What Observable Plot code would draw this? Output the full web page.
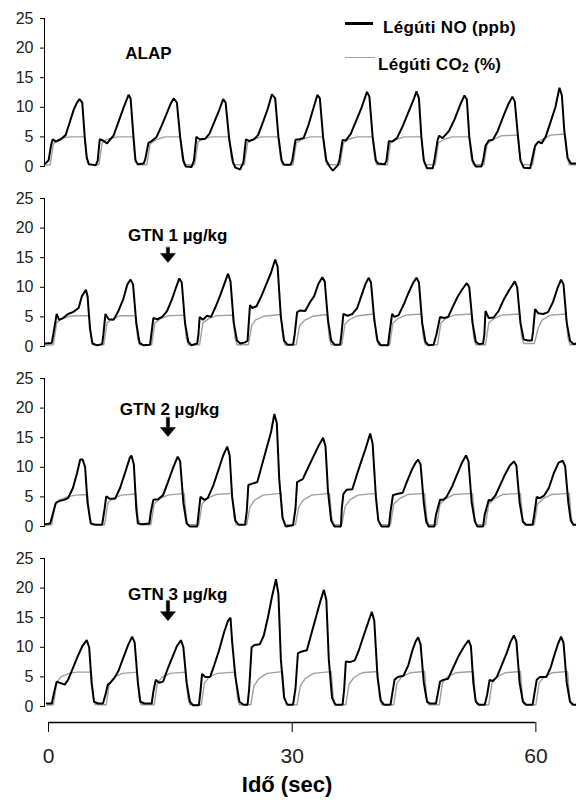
<!DOCTYPE html>
<html><head><meta charset="utf-8">
<script src="https://cdn.jsdelivr.net/npm/d3@7"></script>
<script src="https://cdn.jsdelivr.net/npm/@observablehq/plot@0.6"></script>
<style>
body{margin:0;background:#fff;}
#wrap{position:relative;width:576px;height:802px;overflow:hidden;font-family:"Liberation Sans",Arial,sans-serif;color:#000;}
.pl{position:absolute;left:0;}
.lg{position:absolute;font-weight:bold;font-size:17px;line-height:17px;white-space:nowrap;letter-spacing:0.3px;}
.lg sub{font-size:12px;vertical-align:-2px;}
.sw{position:absolute;}
#xt{position:absolute;left:187px;width:200px;text-align:center;font-weight:bold;font-size:22px;line-height:22px;top:774px;}
</style></head><body><div id="wrap"></div>
<script>
const xTicks = [0, 30, 60];
const yTicks = [0, 5, 10, 15, 20, 25];
const seriesNames = ["Légúti NO (ppb)", "Légúti CO₂ (%)"];
const xTitle = "Idő (sec)";

// Légúti NO (ppb), [time s, value]
const no1 = [
[-0.4,0.5],[0.0,1.0],[0.3,3.5],[0.5,4.6],[0.9,4.2],[1.5,4.6],[2.1,5.3],[2.5,7.0],[3.1,9.6],[3.5,10.8],[3.8,11.4],[4.15,10.8],[4.45,5.0],[4.7,1.5],[4.95,0.4],[5.8,0.2],
[6.05,1.0],[6.3,4.6],[6.7,4.4],[7.2,3.9],[7.6,4.6],[8.0,5.2],[8.6,7.5],[9.2,9.8],[9.85,12.1],[10.1,11.5],[10.4,6.0],[10.7,1.0],[11.0,0.4],[11.7,0.5],
[11.9,1.2],[12.3,4.0],[12.7,4.3],[13.3,5.0],[13.8,6.5],[14.5,8.8],[15.0,10.5],[15.4,11.5],[15.8,10.8],[16.2,5.0],[16.6,1.0],[16.9,0.0],[17.6,-0.1],
[17.9,1.0],[18.2,5.0],[18.6,4.6],[19.3,4.7],[19.8,5.5],[20.4,7.5],[21.0,9.5],[21.5,11.4],[21.8,10.8],[22.25,4.5],[22.7,0.8],[23.0,-0.2],[23.6,-0.5],
[24.0,0.8],[24.3,4.6],[24.7,4.3],[25.3,4.6],[25.8,5.3],[26.4,7.5],[27.0,9.8],[27.5,12.2],[27.9,11.5],[28.3,5.0],[28.7,1.0],[29.0,0.3],[29.8,0.3],
[30.0,1.0],[30.4,4.5],[30.9,4.6],[31.4,4.8],[32.0,7.0],[32.6,9.8],[33.1,12.1],[33.4,11.5],[33.8,5.0],[34.2,1.0],[34.6,0.0],[35.0,-0.7],[35.6,0.2],
[35.8,1.0],[36.2,4.5],[36.6,4.4],[37.2,5.5],[37.8,7.5],[38.5,9.8],[39.2,12.6],[39.5,11.8],[39.9,5.0],[40.3,1.0],[40.6,0.5],[41.4,0.4],
[41.6,1.0],[41.9,4.3],[42.3,4.2],[42.9,4.8],[43.6,6.8],[44.4,9.5],[45.0,11.5],[45.3,12.7],[45.6,11.5],[45.9,5.0],[46.2,1.0],[46.6,-0.3],[47.3,-0.3],
[47.5,1.0],[47.9,4.5],[48.1,5.2],[48.5,4.8],[49.3,6.0],[50.0,8.0],[50.7,10.5],[51.2,12.0],[51.5,11.3],[51.8,5.0],[52.2,1.0],[52.6,0.0],[53.3,0.0],
[53.5,1.0],[53.8,3.5],[54.2,4.4],[54.7,4.5],[55.3,6.0],[56.0,8.5],[56.6,10.5],[57.1,11.8],[57.4,11.0],[57.8,5.0],[58.1,1.0],[58.5,-0.2],[59.3,-0.3],
[59.5,1.0],[59.9,3.5],[60.3,4.2],[60.7,3.9],[61.2,5.0],[61.8,7.5],[62.4,10.0],[62.9,13.3],[63.2,12.0],[63.5,6.0],[63.9,1.5],[64.3,0.5],[65.0,0.5]
];
const no2 = [
[-0.4,0.5],[0.4,0.6],[0.7,3.0],[1.0,5.5],[1.3,4.5],[1.8,4.8],[2.4,5.5],[3.0,5.8],[3.7,6.5],[4.1,8.5],[4.6,9.6],[4.8,8.5],[5.1,3.0],[5.4,0.5],[6.0,0.2],[6.6,0.4],
[6.75,2.0],[7.0,5.5],[7.4,4.6],[8.0,4.5],[8.6,6.0],[9.2,8.0],[9.7,10.5],[10.1,11.3],[10.4,10.5],[10.8,4.0],[11.2,0.6],[11.7,0.2],[12.5,0.3],
[12.65,2.0],[12.9,4.8],[13.4,4.6],[14.0,5.0],[14.6,6.0],[15.2,8.0],[15.7,10.0],[16.1,11.5],[16.4,10.8],[16.8,4.0],[17.2,0.8],[17.6,0.2],[18.3,0.5],
[18.45,2.0],[18.6,5.0],[19.0,4.5],[19.5,5.2],[20.0,5.0],[20.5,6.5],[21.1,8.5],[21.7,10.8],[22.1,12.3],[22.4,11.0],[22.8,4.0],[23.2,1.0],[23.6,0.5],[24.2,0.7],
[24.5,1.0],[24.8,7.0],[25.1,6.5],[25.6,6.8],[26.2,8.5],[26.8,10.5],[27.4,12.5],[27.9,14.7],[28.2,13.5],[28.6,5.0],[29.0,1.0],[29.4,0.3],[30.1,0.3],
[30.3,2.0],[30.6,5.8],[31.0,6.1],[31.6,6.0],[32.2,7.5],[32.7,8.5],[33.2,10.5],[33.7,11.7],[34.0,11.0],[34.4,4.5],[34.8,1.0],[35.2,0.3],[35.9,0.3],
[36.05,2.0],[36.3,5.5],[36.8,5.2],[37.4,5.5],[38.0,6.5],[38.5,8.5],[39.0,10.5],[39.4,11.6],[39.7,10.8],[40.1,4.5],[40.5,1.0],[40.9,0.2],[41.8,0.2],
[41.95,2.0],[42.3,5.5],[42.6,5.0],[43.1,5.3],[43.7,7.0],[44.3,9.0],[44.9,10.8],[45.3,11.6],[45.6,10.8],[46.0,4.0],[46.4,0.8],[46.8,0.2],[47.4,0.3],
[47.75,2.0],[48.2,5.0],[48.7,4.8],[49.2,5.0],[49.8,6.8],[50.4,8.5],[51.0,9.8],[51.5,10.7],[51.8,10.0],[52.2,4.0],[52.6,0.8],[53.0,0.4],[53.5,0.5],
[53.65,2.0],[53.8,6.0],[54.2,4.8],[54.8,4.9],[55.4,6.0],[56.0,7.8],[56.7,9.5],[57.4,11.0],[57.7,10.0],[58.1,4.0],[58.5,1.2],[59.0,1.0],[59.5,1.0],
[59.65,2.5],[59.9,6.3],[60.3,5.6],[60.9,5.5],[61.5,5.8],[62.1,7.5],[62.7,10.0],[63.1,11.3],[63.4,10.5],[63.8,4.0],[64.2,1.0],[64.6,0.4],[65.0,0.5]
];
const no3 = [
[-0.4,0.4],[0.2,0.5],[0.5,2.0],[0.9,4.0],[1.3,4.3],[1.9,4.5],[2.4,4.8],[3.0,6.5],[3.5,9.0],[3.9,11.3],[4.2,11.3],[4.5,10.0],[4.8,4.0],[5.2,0.5],[5.8,0.3],[6.6,0.3],
[6.9,3.0],[7.1,5.1],[7.5,4.7],[8.2,4.7],[8.8,6.5],[9.4,9.0],[10.0,11.6],[10.2,12.0],[10.5,10.5],[10.8,3.0],[11.0,0.5],[11.5,0.4],[12.4,0.5],
[12.6,2.5],[12.9,4.5],[13.5,4.6],[14.1,5.3],[14.7,7.5],[15.3,9.8],[15.9,11.8],[16.2,11.0],[16.6,4.0],[17.0,0.5],[17.4,0.0],[18.3,0.0],
[18.5,2.5],[18.7,5.0],[19.2,4.5],[19.6,4.8],[20.3,7.0],[20.9,9.5],[21.5,12.0],[22.0,13.5],[22.3,12.0],[22.6,5.0],[23.0,1.0],[23.4,0.3],[24.2,0.3],
[24.4,2.5],[24.6,7.0],[25.0,7.2],[25.7,7.5],[26.3,10.5],[26.9,13.5],[27.4,16.0],[27.8,19.0],[28.1,17.5],[28.4,8.0],[28.8,1.5],[29.2,0.0],[30.1,0.2],
[30.4,3.0],[30.6,7.5],[31.0,7.8],[31.3,8.0],[31.8,9.5],[32.5,11.5],[33.2,13.5],[33.8,15.0],[34.1,13.5],[34.4,6.0],[34.8,1.0],[35.2,0.0],[36.0,0.0],
[36.1,3.0],[36.3,5.5],[36.7,6.2],[37.4,6.3],[37.9,8.5],[38.5,11.0],[39.0,13.0],[39.6,15.7],[39.9,14.0],[40.3,5.0],[40.6,1.0],[41.0,0.0],[41.9,0.0],
[42.1,2.5],[42.4,5.3],[42.9,5.5],[43.6,5.7],[44.1,7.5],[44.7,9.5],[45.2,10.8],[45.5,11.3],[45.8,10.5],[46.2,4.0],[46.5,0.8],[46.8,0.0],[47.5,0.0],
[47.7,2.0],[48.2,4.5],[48.6,4.5],[49.0,5.0],[49.7,6.8],[50.3,8.8],[50.9,10.8],[51.4,12.0],[51.7,11.0],[52.1,4.0],[52.5,0.8],[52.8,0.0],[53.5,0.0],
[53.7,2.0],[54.2,4.5],[54.5,4.4],[55.0,5.2],[55.6,7.0],[56.2,8.8],[56.8,10.3],[57.3,11.0],[57.6,10.3],[58.0,4.0],[58.4,0.8],[58.8,0.3],[59.6,0.3],
[59.8,2.0],[60.1,5.0],[60.5,4.8],[61.0,5.2],[61.6,6.5],[62.2,9.0],[62.8,10.8],[63.3,11.1],[63.6,10.2],[64.0,4.0],[64.3,1.0],[64.6,0.3],[65.0,0.3]
];
const no4 = [
[-0.2,0.5],[0.4,0.5],[0.7,2.5],[1.0,4.2],[1.4,4.0],[2.0,3.7],[2.4,4.5],[3.0,6.5],[3.6,8.5],[4.2,10.3],[4.7,11.2],[5.0,10.0],[5.3,4.0],[5.6,0.8],[6.1,0.5],[6.7,0.5],
[7.0,2.0],[7.3,3.7],[7.6,4.0],[8.1,4.8],[8.6,6.0],[9.2,8.2],[9.8,10.4],[10.3,11.8],[10.6,10.8],[11.0,4.0],[11.3,0.8],[11.8,0.5],[12.7,0.5],
[12.9,2.5],[13.2,4.5],[13.6,4.0],[14.1,4.2],[14.7,6.5],[15.3,8.5],[15.8,10.2],[16.3,11.2],[16.6,10.0],[17.0,4.0],[17.4,0.8],[17.8,0.2],[18.5,0.2],
[18.7,2.5],[18.9,5.5],[19.3,5.0],[19.9,5.0],[20.4,7.0],[21.0,9.5],[21.6,12.5],[22.1,14.5],[22.4,15.0],[22.6,11.0],[23.0,5.0],[23.5,0.8],[24.0,0.3],[24.5,0.3],
[24.7,3.0],[25.0,10.0],[25.4,10.4],[26.0,10.5],[26.5,12.0],[27.0,15.0],[27.5,18.5],[28.0,21.5],[28.3,19.0],[28.6,8.0],[29.0,1.5],[29.4,0.3],[30.1,0.3],
[30.4,3.0],[30.7,9.0],[31.2,9.3],[31.8,9.5],[32.3,12.0],[32.9,15.0],[33.4,17.5],[33.9,19.7],[34.2,18.0],[34.5,8.0],[34.9,1.5],[35.3,0.3],[36.2,0.3],
[36.4,3.0],[36.6,7.6],[37.1,7.5],[37.7,7.8],[38.2,9.5],[38.8,12.0],[39.3,14.0],[39.8,16.0],[40.1,14.5],[40.5,5.0],[40.9,1.0],[41.3,0.3],[42.1,0.3],
[42.3,2.0],[42.6,4.5],[43.0,5.0],[43.7,5.2],[44.3,7.0],[44.8,9.5],[45.2,11.0],[45.5,11.7],[45.8,10.5],[46.2,4.0],[46.6,0.8],[47.0,0.5],[47.7,0.5],
[47.9,2.0],[48.2,4.2],[48.6,4.5],[49.2,4.7],[49.8,6.5],[50.4,8.3],[51.1,10.0],[51.7,11.2],[52.0,10.2],[52.3,4.0],[52.6,0.8],[53.0,0.3],[53.7,0.3],
[54.0,2.0],[54.3,4.5],[54.7,4.3],[55.2,5.0],[55.8,7.0],[56.4,9.0],[56.9,11.0],[57.3,12.0],[57.6,11.0],[58.0,4.0],[58.4,0.8],[58.8,0.3],[59.6,0.3],
[59.8,2.0],[60.1,4.5],[60.5,5.0],[61.3,5.0],[61.8,6.5],[62.3,8.8],[62.7,10.5],[63.1,11.8],[63.4,10.8],[63.8,4.0],[64.2,0.8],[64.6,0.3],[65.0,0.3]
];

// Légúti CO2 (%), [time s, value]
const co1 = [
[-0.4,0.2],[0.2,0.3],[0.6,3.8],[1.0,4.4],[2.0,4.9],[2.8,5.0],[4.45,5.0],[4.7,1.5],[4.95,0.3],
[6.2,0.3],[6.6,4.0],[7.2,4.6],[8.5,5.0],[10.4,5.0],[10.65,1.5],[10.9,0.3],
[12.1,0.3],[12.5,3.8],[13.2,4.5],[14.3,5.0],[16.2,5.0],[16.45,1.5],[16.7,0.3],
[18.0,0.3],[18.4,4.2],[19.0,4.6],[20.0,5.0],[22.25,5.0],[22.5,1.5],[22.75,0.3],
[24.1,0.3],[24.5,4.0],[25.2,4.6],[26.2,5.0],[28.3,5.0],[28.55,1.5],[28.8,0.3],
[30.1,0.3],[30.5,4.0],[31.2,4.6],[32.2,5.0],[33.8,5.0],[34.05,1.5],[34.3,0.3],
[35.9,0.3],[36.3,4.0],[37.0,4.6],[38.0,5.0],[39.9,5.0],[40.15,1.5],[40.4,0.3],
[41.7,0.3],[42.1,4.0],[42.8,4.6],[43.8,5.0],[45.9,5.0],[46.15,1.5],[46.4,0.3],
[47.6,0.3],[48.0,4.0],[48.7,4.6],[49.7,5.0],[51.8,5.0],[52.05,1.5],[52.3,0.3],
[53.6,0.3],[54.0,3.8],[54.8,4.6],[55.8,5.2],[57.8,5.3],[58.05,1.5],[58.3,0.3],
[59.6,0.3],[60.0,3.8],[60.8,4.6],[61.8,5.3],[63.6,5.5],[63.85,1.5],[64.1,0.3],[65.0,0.3]
];
const co2 = [
[-0.4,0.2],[0.6,0.3],[1.0,4.0],[1.5,4.6],[2.5,5.1],[3.5,5.2],[5.0,5.2],[5.25,1.5],[5.5,0.3],
[6.8,0.3],[7.2,4.0],[7.8,4.6],[8.8,5.2],[10.7,5.2],[10.95,1.5],[11.2,0.3],
[12.7,0.3],[13.1,4.0],[13.8,4.7],[14.8,5.2],[16.7,5.3],[16.95,1.5],[17.2,0.3],
[18.6,0.3],[19.0,4.0],[19.7,4.7],[20.7,5.2],[22.7,5.3],[22.95,1.5],[23.2,0.3],
[24.6,0.3],[25.0,3.5],[25.5,4.5],[26.5,5.1],[28.6,5.4],[28.85,1.5],[29.1,0.3],
[30.5,0.3],[30.9,3.5],[31.5,4.4],[32.5,5.1],[34.3,5.4],[34.55,1.5],[34.8,0.3],
[36.1,0.3],[36.5,3.8],[37.1,4.6],[38.1,5.2],[40.1,5.5],[40.35,1.5],[40.6,0.3],
[42.0,0.3],[42.4,4.0],[43.0,4.7],[44.0,5.3],[45.9,5.5],[46.15,1.5],[46.4,0.3],
[47.9,0.3],[48.3,4.0],[48.9,4.7],[49.9,5.3],[52.1,5.5],[52.35,1.5],[52.6,0.3],
[53.8,0.3],[54.2,4.0],[54.8,4.7],[55.8,5.3],[58.0,5.5],[58.25,1.5],[58.5,0.5],
[59.8,0.5],[60.3,3.2],[60.8,4.5],[61.8,5.3],[63.7,5.5],[63.95,1.5],[64.2,0.3],[65.0,0.3]
];
const co3 = [
[-0.4,0.2],[0.4,0.3],[0.8,3.8],[1.3,4.4],[2.3,5.0],[3.3,5.3],[4.8,5.4],[5.05,1.5],[5.3,0.3],
[6.9,0.3],[7.3,4.0],[8.0,4.8],[9.0,5.3],[10.75,5.5],[11.0,1.5],[11.25,0.3],
[12.6,0.3],[13.0,3.8],[13.7,4.7],[14.7,5.3],[16.7,5.6],[16.95,1.5],[17.2,0.3],
[18.5,0.3],[18.9,3.8],[19.6,4.8],[20.6,5.4],[22.6,5.6],[22.85,1.5],[23.1,0.3],
[24.4,0.3],[24.8,3.3],[25.4,4.5],[26.4,5.3],[28.6,5.6],[28.85,1.5],[29.1,0.3],
[30.4,0.3],[30.8,3.3],[31.4,4.5],[32.4,5.3],[34.6,5.6],[34.85,1.5],[35.1,0.3],
[36.1,0.3],[36.5,3.3],[37.1,4.5],[38.1,5.3],[40.3,5.6],[40.55,1.5],[40.8,0.3],
[42.1,0.3],[42.5,3.8],[43.2,4.7],[44.2,5.4],[46.3,5.6],[46.55,1.5],[46.8,0.3],
[47.8,0.3],[48.2,3.8],[48.9,4.7],[49.9,5.4],[52.2,5.6],[52.45,1.5],[52.7,0.3],
[53.8,0.3],[54.2,3.8],[54.9,4.7],[55.9,5.4],[58.1,5.6],[58.35,1.5],[58.6,0.3],
[59.8,0.3],[60.2,3.8],[60.9,4.7],[61.9,5.4],[64.1,5.6],[64.35,1.5],[64.6,0.3],[65.0,0.3]
];
const co4 = [
[-0.2,0.2],[0.6,0.3],[1.0,4.0],[1.5,5.0],[2.5,5.6],[3.5,5.8],[5.25,5.8],[5.5,1.5],[5.75,0.3],
[7.1,0.3],[7.5,4.0],[8.1,5.0],[9.1,5.6],[10.9,5.8],[11.15,1.5],[11.4,0.3],
[13.0,0.3],[13.4,4.0],[14.0,5.0],[15.0,5.6],[16.9,5.8],[17.15,1.5],[17.4,0.3],
[18.8,0.3],[19.2,4.0],[19.8,5.0],[20.8,5.6],[23.0,5.8],[23.25,1.5],[23.5,0.3],
[24.9,0.3],[25.3,3.5],[25.9,4.7],[26.9,5.6],[28.8,5.9],[29.05,1.5],[29.3,0.3],
[30.6,0.3],[31.0,3.5],[31.6,4.7],[32.6,5.6],[34.8,5.9],[35.05,1.5],[35.3,0.3],
[36.6,0.3],[37.0,3.8],[37.6,4.9],[38.6,5.7],[40.5,5.9],[40.75,1.5],[41.0,0.3],
[42.5,0.3],[42.9,4.0],[43.5,5.0],[44.5,5.7],[46.3,5.9],[46.55,1.5],[46.8,0.3],
[48.1,0.3],[48.5,4.0],[49.1,5.0],[50.1,5.7],[52.3,5.9],[52.55,1.5],[52.8,0.3],
[54.2,0.3],[54.6,4.0],[55.2,5.0],[56.2,5.7],[58.1,5.9],[58.35,1.5],[58.6,0.3],
[60.0,0.3],[60.4,4.0],[61.0,5.0],[62.0,5.7],[63.9,5.9],[64.15,1.5],[64.4,0.3],[65.0,0.3]
];

const noSeries = [no1, no2, no3, no4];
const coSeries = [co1, co2, co3, co4];
const panelLabels = ["ALAP", "GTN 1 µg/kg", "GTN 2 µg/kg", "GTN 3 µg/kg"];
// annotation anchors in data units (time s, y value)
const labelPos = [[12.3, 19.1], [15.9, 18.75], [14.9, 19.8], [15.9, 18.9]];
const gtnTime = 14.7;
const arrowTip = [null, 14.2, 15.2, 14.5];
const arrowLen = [0, 15, 19, 20];

const wrap = document.getElementById("wrap");
const font = "Liberation Sans, Arial, sans-serif";

const fatArrow = {
  draw(ctx, l) {
    const hl = 9, hw = 7.5, sw = 1.6;
    ctx.moveTo(-sw, 0);
    ctx.lineTo(-sw, -l + hl);
    ctx.lineTo(-hw, -l + hl);
    ctx.lineTo(0, -l);
    ctx.lineTo(hw, -l + hl);
    ctx.lineTo(sw, -l + hl);
    ctx.lineTo(sw, 0);
    ctx.closePath();
  }
};

for (let i = 0; i < 4; i++) {
  const marks = [
    Plot.axisY(yTicks, {tickSize: 4, tickPadding: 7, fontSize: 16, label: null, fill: "#222"}),
    Plot.frame({anchor: "left", stroke: "#000"}),
    Plot.line(coSeries[i], {x: d => d[0], y: d => d[1], stroke: "#a0a0a0", strokeWidth: 1.4}),
    Plot.line(noSeries[i], {x: d => d[0], y: d => d[1], stroke: "#000", strokeWidth: 2, strokeLinejoin: "miter"}),
    Plot.text([panelLabels[i]], {x: labelPos[i][0], y: labelPos[i][1], text: d => d, fontSize: 17, fontWeight: "bold", fill: "#000"})
  ];
  if (arrowTip[i] != null) {
    marks.push(Plot.vector([gtnTime], {x: d => d, y: arrowTip[i], length: arrowLen[i], rotate: 180, anchor: "end", shape: fatArrow, fill: "#000", stroke: "#000", strokeWidth: 0.5}));
  }
  const svg = Plot.plot({
    width: 576, height: 180,
    marginTop: 18, marginBottom: 14, marginLeft: 44, marginRight: 0,
    x: {domain: [-0.5, 65], axis: null},
    y: {domain: [0, 25]},
    style: {fontFamily: font, background: "transparent", overflow: "visible", color: "#000"},
    marks
  });
  const d = document.createElement("div");
  d.className = "pl";
  d.style.top = (180 * i) + "px";
  d.appendChild(svg);
  wrap.appendChild(d);
}

// x axis
const axisSvg = Plot.plot({
  width: 576, height: 60,
  marginTop: 0, marginBottom: 50, marginLeft: 44, marginRight: 0,
  x: {domain: [-0.5, 65]},
  y: {domain: [0, 1], axis: null},
  style: {fontFamily: font, background: "transparent", overflow: "visible", color: "#000"},
  marks: [
    Plot.ruleY([0], {x1: xTicks[0], x2: xTicks[xTicks.length - 1], stroke: "#000", strokeWidth: 1.3}),
    Plot.axisX(xTicks, {tickSize: 10, tickPadding: 16, fontSize: 21, label: null, fill: "#222"})
  ]
});
const ad = document.createElement("div");
ad.className = "pl";
ad.style.top = "712px";
ad.appendChild(axisSvg);
wrap.appendChild(ad);

const t = document.createElement("div");
t.id = "xt";
t.textContent = xTitle;
wrap.appendChild(t);

// legend (inside top panel)
const lg = document.createElement("div");
lg.innerHTML =
  '<div class="sw" style="left:345px;top:22px;width:28px;height:3px;background:#000"></div>' +
  '<div class="lg" style="left:383px;top:19px">' + seriesNames[0] + '</div>' +
  '<div class="sw" style="left:345px;top:57px;width:30px;height:1.4px;background:#a0a0a0"></div>' +
  '<div class="lg" style="left:378px;top:56px">Légúti CO<sub>2</sub> (%)</div>';
wrap.appendChild(lg);
</script>
</body></html>
